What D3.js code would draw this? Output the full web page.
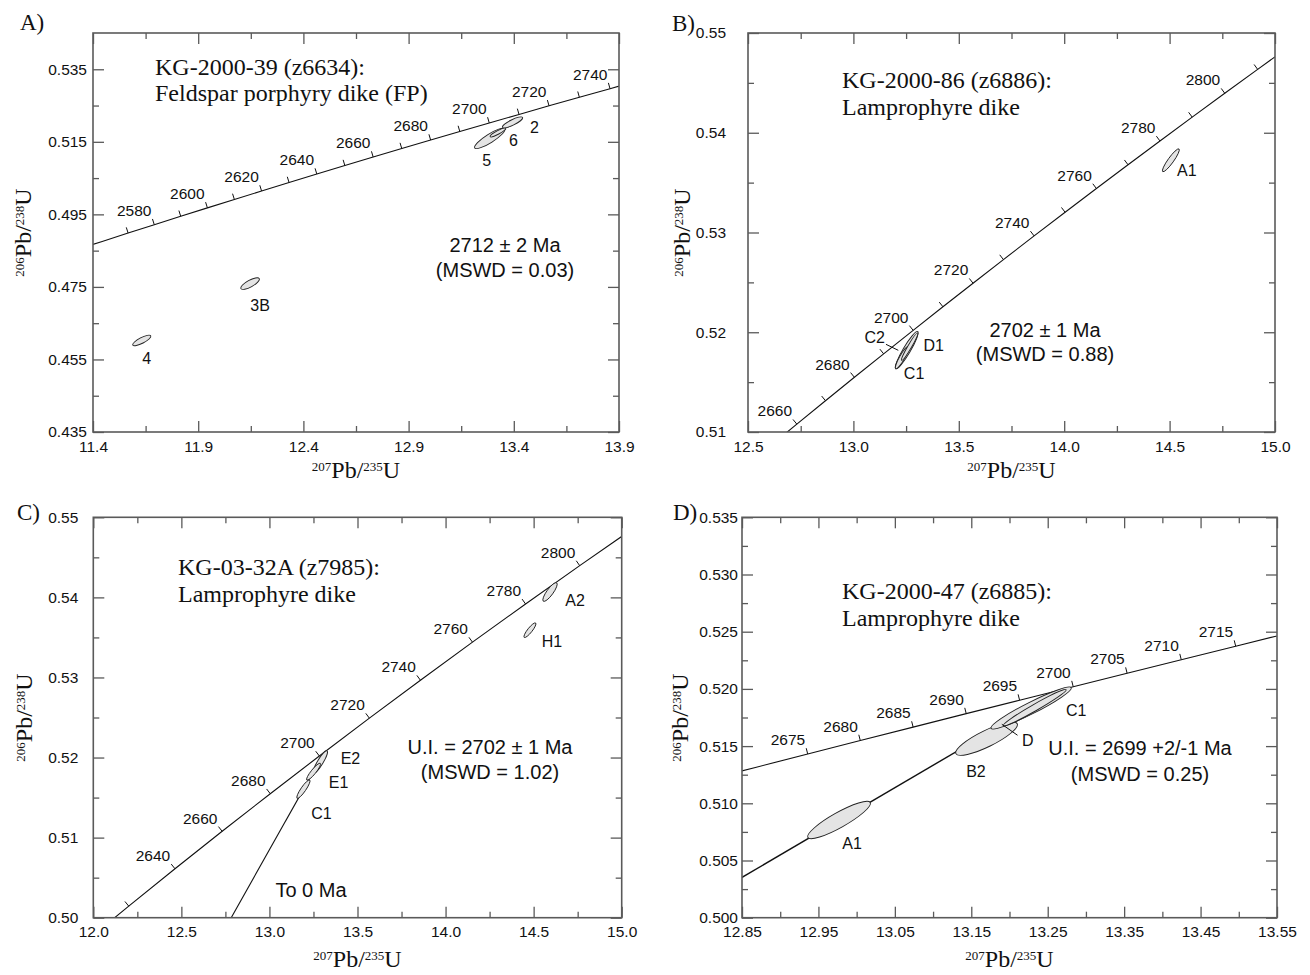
<!DOCTYPE html>
<html><head><meta charset="utf-8">
<script src="https://cdn.jsdelivr.net/npm/d3@7"></script>
<style>
html,body{margin:0;padding:0;background:#fff;}
svg{display:block;}
</style></head><body>
<svg id="chart" width="1310" height="975"></svg>
<script>
// ---- Decay constants (Steiger & Jäger) used to place the concordia ----
const LAMBDA_238 = 1.55125e-10;
const LAMBDA_235 = 9.8485e-10;

// ---- Panel letters / titles / annotations ----
const panelLetters = ['A)', 'B)', 'C)', 'D)'];
const titlesA = ['KG-2000-39 (z6634):', 'Feldspar porphyry dike (FP)'];
const titlesB = ['KG-2000-86 (z6886):', 'Lamprophyre dike'];
const titlesC = ['KG-03-32A (z7985):', 'Lamprophyre dike'];
const titlesD = ['KG-2000-47 (z6885):', 'Lamprophyre dike'];
const resultA = ['2712 ± 2 Ma', '(MSWD = 0.03)'];
const resultB = ['2702 ± 1 Ma', '(MSWD = 0.88)'];
const resultC = ['U.I. = 2702 ± 1 Ma', '(MSWD = 1.02)'];
const resultD = ['U.I. = 2699 +2/-1 Ma', '(MSWD = 0.25)'];
const noteC = 'To 0 Ma';

// ---- Axes ----
const xDomainA = [11.4, 13.9], yDomainA = [0.435, 0.545];
const xTicksA = [11.4, 11.9, 12.4, 12.9, 13.4, 13.9];
const xMinorA = [11.65, 12.15, 12.65, 13.15, 13.65];
const yTicksA = [0.435, 0.455, 0.475, 0.495, 0.515, 0.535];
const yMinorA = [0.445, 0.465, 0.485, 0.505, 0.525];

const xDomainB = [12.5, 15.0], yDomainB = [0.51, 0.55];
const xTicksB = [12.5, 13.0, 13.5, 14.0, 14.5, 15.0];
const xMinorB = [12.75, 13.25, 13.75, 14.25, 14.75];
const yTicksB = [0.51, 0.52, 0.53, 0.54, 0.55];
const yMinorB = [0.515, 0.525, 0.535, 0.545];

const xDomainC = [12.0, 15.0], yDomainC = [0.50, 0.55];
const xTicksC = [12.0, 12.5, 13.0, 13.5, 14.0, 14.5, 15.0];
const xMinorC = [12.25, 12.75, 13.25, 13.75, 14.25, 14.75];
const yTicksC = [0.50, 0.51, 0.52, 0.53, 0.54, 0.55];
const yMinorC = [0.505, 0.515, 0.525, 0.535, 0.545];

const xDomainD = [12.85, 13.55], yDomainD = [0.500, 0.535];
const xTicksD = [12.85, 12.95, 13.05, 13.15, 13.25, 13.35, 13.45, 13.55];
const xMinorD = [12.90, 13.00, 13.10, 13.20, 13.30, 13.40, 13.50];
const yTicksD = [0.500, 0.505, 0.510, 0.515, 0.520, 0.525, 0.530, 0.535];
const yMinorD = [0.5025, 0.5075, 0.5125, 0.5175, 0.5225, 0.5275, 0.5325];

// ---- Concordia age marks (Ma) ----
const curveAgesA = [2550, 2560, 2570, 2580, 2590, 2600, 2610, 2620, 2630, 2640, 2650, 2660, 2670, 2680, 2690, 2700, 2710, 2720, 2730, 2740, 2750];
const tickAgesA = [2570, 2580, 2590, 2600, 2610, 2620, 2630, 2640, 2650, 2660, 2670, 2680, 2690, 2700, 2710, 2720, 2730, 2740];
const labelAgesA = [2580, 2600, 2620, 2640, 2660, 2680, 2700, 2720, 2740];

const curveAgesB = [2650, 2660, 2670, 2680, 2690, 2700, 2710, 2720, 2730, 2740, 2750, 2760, 2770, 2780, 2790, 2800, 2810, 2820];
const tickAgesB = [2660, 2670, 2680, 2690, 2700, 2710, 2720, 2730, 2740, 2750, 2760, 2770, 2780, 2790, 2800, 2810];
const labelAgesB = [2660, 2680, 2700, 2720, 2740, 2760, 2780, 2800];

const curveAgesC = [2600, 2620, 2640, 2660, 2680, 2700, 2720, 2740, 2760, 2780, 2800, 2820];
const tickAgesC = [2620, 2640, 2660, 2680, 2700, 2720, 2740, 2760, 2780, 2800];
const labelAgesC = [2640, 2660, 2680, 2700, 2720, 2740, 2760, 2780, 2800];

const curveAgesD = [2665, 2670, 2675, 2680, 2685, 2690, 2695, 2700, 2705, 2710, 2715, 2720];
const tickAgesD = [2675, 2680, 2685, 2690, 2695, 2700, 2705, 2710, 2715];
const labelAgesD = [2675, 2680, 2685, 2690, 2695, 2700, 2705, 2710, 2715];

// ---- Discordia intercepts (Ma): [upper, lower] ----
const discordiaC = [2702, 0];
const discordiaD = [2699, 0];

// ---- Analyses: centre (207/235, 206/238), half major axis (d207/235, d206/238), minor/major ratio ----
const analysesA = [
  {name: '5', x: 13.2857, y: 0.51593, dx: 0.0714, dy: 0.002613, ratio: 0.24},
  {name: '6', x: 13.3248, y: 0.51759, dx: 0.0374, dy: 0.001142, ratio: 0.2},
  {name: '2', x: 13.3940, y: 0.52036, dx: 0.0476, dy: 0.001376, ratio: 0.24},
  {name: '3B', x: 12.1467, y: 0.47591, dx: 0.04357, dy: 0.001376, ratio: 0.32},
  {name: '4', x: 11.6319, y: 0.46023, dx: 0.04286, dy: 0.001279, ratio: 0.28}
];
const analysesB = [
  {name: 'A1', x: 14.506, y: 0.53724, dx: 0.03866, dy: 0.001137, ratio: 0.2},
  {name: 'D1', x: 13.253, y: 0.51821, dx: 0.0522, dy: 0.001868, ratio: 0.17},
  {name: 'C1', x: 13.231, y: 0.51746, dx: 0.0299, dy: 0.001117, ratio: 0.2},
  {name: 'C2', x: 13.267, y: 0.51856, dx: 0.038, dy: 0.001368, ratio: 0.12}
];
const analysesC = [
  {name: 'A2', x: 14.593, y: 0.54067, dx: 0.03804, dy: 0.001149, ratio: 0.28},
  {name: 'H1', x: 14.479, y: 0.53590, dx: 0.03236, dy: 0.000899, ratio: 0.25},
  {name: 'E2', x: 13.2897, y: 0.51948, dx: 0.03719, dy: 0.001349, ratio: 0.22},
  {name: 'E1', x: 13.2506, y: 0.51823, dx: 0.03833, dy: 0.001043, ratio: 0.22},
  {name: 'C1', x: 13.1929, y: 0.51605, dx: 0.03577, dy: 0.001143, ratio: 0.22}
];
const analysesD = [
  {name: 'A1', x: 12.977, y: 0.50854, dx: 0.0408, dy: 0.00153, ratio: 0.21},
  {name: 'B2', x: 13.170, y: 0.51565, dx: 0.0401, dy: 0.00131, ratio: 0.24},
  {name: 'C1', x: 13.2283, y: 0.51833, dx: 0.0525, dy: 0.001775, ratio: 0.13},
  {name: 'D', x: 13.233, y: 0.51836, dx: 0.0412, dy: 0.00157, ratio: 0.09}
];

// ================= layout / styling (not data) =================
const SANS = "'Liberation Sans', Arial, Helvetica, sans-serif";
const SERIF = "'Liberation Serif', 'Times New Roman', Times, serif";
const FRAME = '#5a5a5a';

const panels = [
  {id: 'A', letter: panelLetters[0], titles: titlesA, result: resultA,
   xDomain: xDomainA, yDomain: yDomainA, xTicks: xTicksA, xMinor: xMinorA, yTicks: yTicksA, yMinor: yMinorA,
   xFmt: '.1f', yFmt: '.3f', curveAges: curveAgesA, tickAges: tickAgesA, labelAges: labelAgesA,
   discordia: null, analyses: analysesA,
   L: {left: 93, right: 619, top: 33, bottom: 432, yGap: 6, letterX: 20, letterY: 30, titleX: 155, titleY: 75, titleDy: 26,
       resX: 505, resY: 252, resDy: 25, yTitleX: 31, xTitleY: 478},
   off: {'5': [-3, 22], '6': [15.5, 8], '2': [22, 4.5], '3B': [10, 22], '4': [5, 18]}},
  {id: 'B', letter: panelLetters[1], titles: titlesB, result: resultB,
   xDomain: xDomainB, yDomain: yDomainB, xTicks: xTicksB, xMinor: xMinorB, yTicks: yTicksB, yMinor: yMinorB,
   xFmt: '.1f', yFmt: '.2f', curveAges: curveAgesB, tickAges: tickAgesB, labelAges: labelAgesB,
   discordia: null, analyses: analysesB,
   L: {left: 748, right: 1275, top: 33, bottom: 432, yGap: 22, letterX: 672, letterY: 31, titleX: 842, titleY: 88, titleDy: 27,
       resX: 1045, resY: 337, resDy: 24, yTitleX: 690, xTitleY: 478},
   off: {'A1': [16, 10], 'D1': [27, -5], 'C1': [12, 16], 'C2': [-35, -9]},
   leaders: {'C2': [[-23.7, -2.3], [-11.4, 3.7]]}},
  {id: 'C', letter: panelLetters[2], titles: titlesC, result: resultC, note: noteC,
   xDomain: xDomainC, yDomain: yDomainC, xTicks: xTicksC, xMinor: xMinorC, yTicks: yTicksC, yMinor: yMinorC,
   xFmt: '.1f', yFmt: '.2f', curveAges: curveAgesC, tickAges: tickAgesC, labelAges: labelAgesC,
   discordia: discordiaC, analyses: analysesC,
   L: {left: 93.3, right: 621.7, top: 517.3, bottom: 917.7, yGap: 15, letterX: 17, letterY: 520, titleX: 178, titleY: 575, titleDy: 27,
       resX: 490, resY: 754, resDy: 25, yTitleX: 32, xTitleY: 967, noteX: 311, noteY: 897},
   off: {'A2': [25, 8], 'H1': [22, 11], 'E2': [30, -3], 'E1': [25, 11], 'C1': [18, 24]}},
  {id: 'D', letter: panelLetters[3], titles: titlesD, result: resultD,
   xDomain: xDomainD, yDomain: yDomainD, xTicks: xTicksD, xMinor: xMinorD, yTicks: yTicksD, yMinor: yMinorD,
   xFmt: '.2f', yFmt: '.3f', curveAges: curveAgesD, tickAges: tickAgesD, labelAges: labelAgesD,
   discordia: discordiaD, analyses: analysesD,
   L: {left: 742, right: 1277, top: 517.3, bottom: 917.7, yGap: 4, letterX: 673, letterY: 520, titleX: 842, titleY: 599, titleDy: 27,
       resX: 1140, resY: 755, resDy: 26, yTitleX: 688, xTitleY: 967},
   off: {'A1': [13, 23], 'B2': [-10.6, 33], 'C1': [45, 2], 'D': [-7, 33]},
   leaders: {'D': [[-17.2, 27.6], [-32.9, 16.6]]}}
];

function concordia(ageMa) {
  const t = ageMa * 1e6;
  return {x: Math.expm1(LAMBDA_235 * t), y: Math.expm1(LAMBDA_238 * t)};
}

const svg = d3.select('#chart');

function ratioTitle(sel, sup1, main1, sup2, main2) {
  sel.append('tspan').attr('font-size', 13).attr('dy', -7).text(sup1);
  sel.append('tspan').attr('font-size', 24).attr('dy', 7).text(main1 + '/');
  sel.append('tspan').attr('font-size', 13).attr('dy', -7).text(sup2);
  sel.append('tspan').attr('font-size', 24).attr('dy', 7).text(main2);
}

panels.forEach(p => {
  const L = p.L;
  const x = d3.scaleLinear().domain(p.xDomain).range([L.left, L.right]);
  const y = d3.scaleLinear().domain(p.yDomain).range([L.bottom, L.top]);
  const g = svg.append('g');

  g.append('clipPath').attr('id', 'clip' + p.id).append('rect')
    .attr('x', L.left).attr('y', L.top).attr('width', L.right - L.left).attr('height', L.bottom - L.top);

  // ---- axes (inward ticks on all sides) ----
  function styleAxis(a) {
    a.select('.domain').remove();
    a.selectAll('line').attr('stroke', FRAME).attr('stroke-width', 1.3);
    a.attr('font-family', SANS).attr('font-size', 15.5);
    a.selectAll('text').attr('fill', '#111');
  }
  styleAxis(g.append('g').attr('transform', `translate(0,${L.bottom})`)
    .call(d3.axisBottom(x).tickValues(p.xTicks).tickSizeInner(-11).tickSizeOuter(0).tickPadding(8.5).tickFormat(d3.format(p.xFmt))));
  styleAxis(g.append('g').attr('transform', `translate(0,${L.bottom})`)
    .call(d3.axisBottom(x).tickValues(p.xMinor).tickSizeInner(-6).tickSizeOuter(0).tickFormat('')));
  styleAxis(g.append('g').attr('transform', `translate(0,${L.top})`)
    .call(d3.axisTop(x).tickValues(p.xTicks).tickSizeInner(-11).tickSizeOuter(0).tickFormat('')));
  styleAxis(g.append('g').attr('transform', `translate(0,${L.top})`)
    .call(d3.axisTop(x).tickValues(p.xMinor).tickSizeInner(-6).tickSizeOuter(0).tickFormat('')));
  styleAxis(g.append('g').attr('transform', `translate(${L.left},0)`)
    .call(d3.axisLeft(y).tickValues(p.yTicks).tickSizeInner(-11).tickSizeOuter(0).tickPadding(L.yGap).tickFormat(d3.format(p.yFmt))));
  styleAxis(g.append('g').attr('transform', `translate(${L.left},0)`)
    .call(d3.axisLeft(y).tickValues(p.yMinor).tickSizeInner(-6).tickSizeOuter(0).tickFormat('')));
  styleAxis(g.append('g').attr('transform', `translate(${L.right},0)`)
    .call(d3.axisRight(y).tickValues(p.yTicks).tickSizeInner(-11).tickSizeOuter(0).tickFormat('')));
  styleAxis(g.append('g').attr('transform', `translate(${L.right},0)`)
    .call(d3.axisRight(y).tickValues(p.yMinor).tickSizeInner(-6).tickSizeOuter(0).tickFormat('')));

  // ---- concordia / discordia (clipped) ----
  const cg = g.append('g').attr('clip-path', `url(#clip${p.id})`);
  if (p.discordia) {
    const up = concordia(p.discordia[0]), lo = concordia(p.discordia[1]);
    cg.append('line')
      .attr('x1', x(lo.x)).attr('y1', y(lo.y)).attr('x2', x(up.x)).attr('y2', y(up.y))
      .attr('stroke', '#111').attr('stroke-width', p.id === 'D' ? 1.4 : 1.1);
  }
  const line = d3.line().x(a => x(concordia(a).x)).y(a => y(concordia(a).y));
  cg.append('path').attr('d', line(p.curveAges)).attr('fill', 'none').attr('stroke', '#111').attr('stroke-width', 1.1);

  // age tick marks and labels
  p.tickAges.forEach(a => {
    const c = concordia(a), c1 = concordia(a - 0.5), c2 = concordia(a + 0.5);
    const px = x(c.x), py = y(c.y);
    let tx = x(c2.x) - x(c1.x), ty = y(c2.y) - y(c1.y);
    const n = Math.hypot(tx, ty); tx /= n; ty /= n;
    const nx = ty, ny = -tx;          // normal pointing up-left
    const tipX = px + nx * 6, tipY = py + ny * 6;
    cg.append('line').attr('x1', px).attr('y1', py).attr('x2', tipX).attr('y2', tipY)
      .attr('stroke', '#111').attr('stroke-width', 1);
    if (p.labelAges.includes(a)) {
      g.append('text').attr('x', tipX - 1).attr('y', tipY - 3)
        .attr('text-anchor', 'end').attr('font-family', SANS).attr('font-size', 15.5).attr('fill', '#111')
        .text(a);
    }
  });

  // ---- error ellipses ----
  p.analyses.forEach(d => {
    const cx = x(d.x), cy = y(d.y);
    const vx = x(d.x + d.dx) - cx, vy = y(d.y + d.dy) - cy;
    const a = Math.hypot(vx, vy);
    const ang = Math.atan2(vy, vx) * 180 / Math.PI;
    g.append('ellipse').attr('cx', 0).attr('cy', 0).attr('rx', a).attr('ry', a * d.ratio)
      .attr('transform', `translate(${cx},${cy}) rotate(${ang})`)
      .attr('fill', '#e4e4e4').attr('stroke', '#222').attr('stroke-width', 0.9);
  });
  p.analyses.forEach(d => {
    const cx = x(d.x), cy = y(d.y);
    const o = p.off[d.name] || [15, 15];
    g.append('text').attr('x', cx + o[0]).attr('y', cy + o[1]).attr('dy', '0.36em')
      .attr('text-anchor', 'middle').attr('font-family', SANS).attr('font-size', 16).attr('fill', '#111')
      .text(d.name);
    if (p.leaders && p.leaders[d.name]) {
      const [s, e] = p.leaders[d.name];
      g.append('line').attr('x1', cx + s[0]).attr('y1', cy + s[1]).attr('x2', cx + e[0]).attr('y2', cy + e[1])
        .attr('stroke', '#111').attr('stroke-width', 1);
    }
  });

  // ---- frame ----
  g.append('rect').attr('x', L.left).attr('y', L.top).attr('width', L.right - L.left).attr('height', L.bottom - L.top)
    .attr('fill', 'none').attr('stroke', FRAME).attr('stroke-width', 1.6);

  // ---- texts ----
  g.append('text').attr('x', L.letterX).attr('y', L.letterY).attr('font-family', SERIF).attr('font-size', 23)
    .attr('fill', '#111').text(p.letter);
  p.titles.forEach((t, i) => {
    g.append('text').attr('x', L.titleX).attr('y', L.titleY + i * L.titleDy)
      .attr('font-family', SERIF).attr('font-size', 24).attr('fill', '#111').text(t);
  });
  p.result.forEach((t, i) => {
    g.append('text').attr('x', L.resX).attr('y', L.resY + i * L.resDy).attr('text-anchor', 'middle')
      .attr('font-family', SANS).attr('font-size', 20).attr('fill', '#111').text(t);
  });
  if (p.note) {
    g.append('text').attr('x', L.noteX).attr('y', L.noteY).attr('text-anchor', 'middle')
      .attr('font-family', SANS).attr('font-size', 20).attr('fill', '#111').text(p.note);
  }
  // axis titles
  const xt = g.append('text').attr('x', (L.left + L.right) / 2).attr('y', L.xTitleY).attr('text-anchor', 'middle')
    .attr('font-family', SERIF).attr('fill', '#111');
  ratioTitle(xt, '207', 'Pb', '235', 'U');
  const yt = g.append('text').attr('transform', `translate(${L.yTitleX},${(L.top + L.bottom) / 2}) rotate(-90)`)
    .attr('text-anchor', 'middle').attr('font-family', SERIF).attr('fill', '#111');
  ratioTitle(yt, '206', 'Pb', '238', 'U');
});
</script>
</body></html>
